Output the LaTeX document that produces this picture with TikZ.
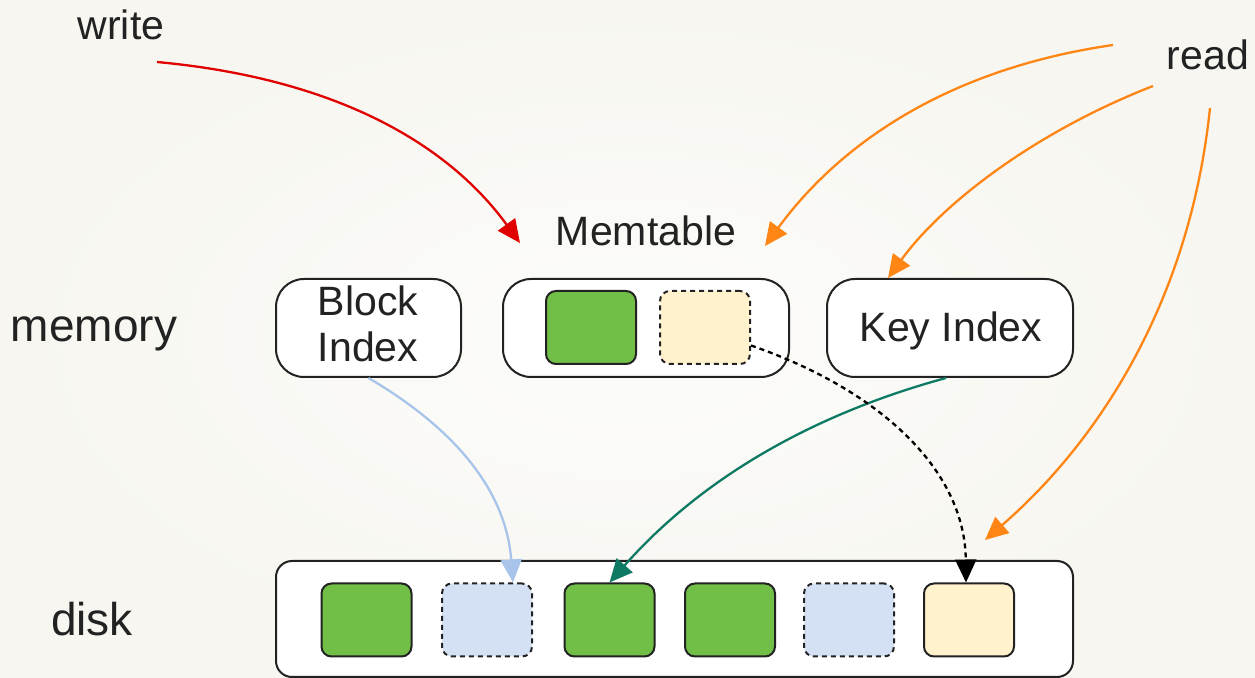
\documentclass[tikz,border=0pt]{standalone}
\usepackage{fontspec}
\setmainfont{Liberation Sans}
\usetikzlibrary{arrows.meta,calc}
\definecolor{bgin}{HTML}{FCFCFA}
\definecolor{bgout}{HTML}{F7F6F0}
\definecolor{grn}{HTML}{72BF48}
\definecolor{lblue}{HTML}{D4E1F4}
\definecolor{cream}{HTML}{FFF2CC}
\definecolor{wred}{HTML}{E00000}
\definecolor{rorange}{HTML}{FF8514}
\definecolor{abl}{HTML}{A9C4EB}
\definecolor{teal2}{HTML}{0E7A63}
\definecolor{txt}{HTML}{222222}
\tikzset{
  lbl/.style={font=\fontsize{20.5pt}{24pt}\selectfont, text=txt, inner sep=0pt, anchor=base},
  biglbl/.style={font=\fontsize{23pt}{27pt}\selectfont, text=txt, inner sep=0pt, anchor=base},
  outerbox/.style={draw=txt, line width=1pt, fill=white, rounded corners=14pt, minimum height=49pt, inner sep=0pt},
  cell/.style={draw=txt, line width=1pt, rounded corners=5pt, minimum width=45pt, minimum height=36.5pt, inner sep=0pt},
  dcell/.style={cell, dash pattern=on 2.5pt off 2pt},
  arr/.style={line width=1.15pt, -{Triangle[length=11.5pt, width=10.5pt]}},
}
\begin{document}
\begin{tikzpicture}[x=0.5pt,y=-0.5pt]
\path[use as bounding box, inner color=bgin, outer color=bgout] (0,0) rectangle (1255,678);

% labels
\node[lbl] (writelbl) at (121,40) {write};
\node[lbl] (readlbl) at (1208,70) {read};
\node[biglbl] (memlbl) at (94,342) {memory};
\node[biglbl] (disklbl) at (92,636) {disk};
\node[lbl] (memtlbl) at (646,246) {Memtable};

% memory boxes
\node[outerbox, minimum width=92.5pt] (bidx) at (368.5,328) {};
\node[lbl] (bidxa) at (368,316) {Block};
\node[lbl] (bidxb) at (368,362) {Index};
\node[outerbox, minimum width=143pt] (memt) at (646,328) {};
\node[cell, fill=grn] (mg) at (591,327.5) {};
\node[dcell, fill=cream] (mc) at (705,327.5) {};
\node[outerbox, minimum width=123pt] (kidx) at (950,328) {};
\node[lbl] (kidxl) at (951,342) {Key Index};

% disk
\node[draw=txt, line width=1pt, fill=white, rounded corners=8pt, minimum width=398.5pt, minimum height=58pt, inner sep=0pt] (disk) at (674.5,619) {};
\node[cell, fill=grn] (d1) at (366.5,620) {};
\node[dcell, fill=lblue] (d2) at (487,620) {};
\node[cell, fill=grn] (d3) at (609.5,620) {};
\node[cell, fill=grn] (d4) at (730,620) {};
\node[dcell, fill=lblue] (d5) at (849,620) {};
\node[cell, fill=cream] (d6) at (969,620) {};

% free ends
\coordinate (ws) at (157,62);
\coordinate (we) at (520,243);
\coordinate (r1s) at (1113,45);
\coordinate (r1e) at (765,246);
\coordinate (r2s) at (1153,86);
\coordinate (r2e) at (888,278);
\coordinate (r3s) at (1210,108);
\coordinate (r3e) at (985,540);

% connectors
\draw[arr, wred] (ws) .. controls (330,78) and (445,140) .. (we);
\draw[arr, rorange] (r1s) .. controls (940,70) and (835,150) .. (r1e);
\draw[arr, rorange] (r2s) .. controls (1040,130) and (945,200) .. (r2e);
\draw[arr, rorange] (r3s) .. controls (1190,300) and (1100,440) .. (r3e);
\draw[arr, abl] (bidx.south) .. controls (440,420) and (505,480) .. ([xshift=13pt]d2.north);
\draw[arr, teal2] ([xshift=-2pt]kidx.south) .. controls (810,415) and (700,480) .. (d3.north);
\draw[arr, black, dash pattern=on 2.5pt off 2pt] ([yshift=-9pt]mc.east) .. controls (880,390) and (965,470) .. ([xshift=-1.5pt]d6.north);
\end{tikzpicture}
\end{document}
